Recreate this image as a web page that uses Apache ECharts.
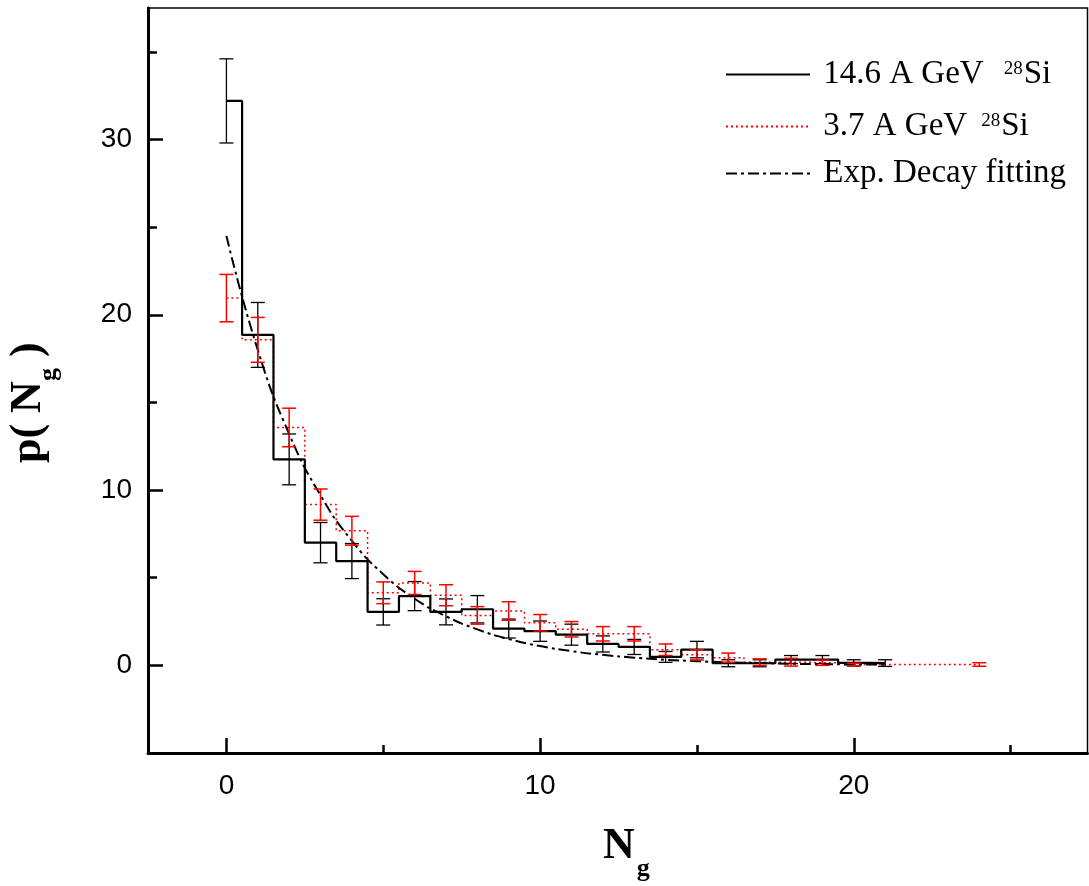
<!DOCTYPE html>
<html>
<head>
<meta charset="utf-8">
<script src="https://cdn.jsdelivr.net/npm/echarts@6/dist/echarts.min.js"></script>
<style>
html,body{margin:0;padding:0;background:#fff;}
#chart{width:1089px;height:886px;}
</style>
</head>
<body>
<div id="chart"></div>
<script>
// ---- data ----
const ngBlack = [0,1,2,3,4,5,6,7,8,9,10,11,12,13,14,15,16,17,18,19,20,21];
const pBlack  = [32.2,18.85,11.75,7.0,5.95,3.05,3.95,3.05,3.2,2.1,1.95,1.75,1.22,1.05,0.48,0.9,0.12,0.12,0.33,0.33,0.14,0.13];
const errBlack= [2.4,1.85,1.45,1.15,1.0,0.75,0.83,0.74,0.78,0.54,0.58,0.6,0.46,0.43,0.31,0.47,0.2,0.2,0.23,0.23,0.18,0.19];

const ngRed = [0,1,2,3,4,5,6,7,8,9,10,11,12,13,14,15,16,17,18,19,20,21,22,23,24];
const pRed  = [20.95,18.57,13.57,9.17,7.68,4.14,4.7,4.0,2.85,3.1,2.43,2.06,1.8,1.8,0.89,0.6,0.44,0.18,0.18,0.15,0.05,0.05,0.05,0.05,0.05];
const errRed= [1.35,1.28,1.1,0.89,0.82,0.62,0.66,0.6,0.5,0.53,0.47,0.44,0.41,0.41,0.33,0.29,0.26,0.19,0.22,0.15,0.07,0,0,0,0.1];

const ngFit = [0,1,2,3,4,5,6,7,8,9,10,11,12,13,14,15,16,17,18,19,20,21];
const pFit  = [24.5,17.99,13.2,9.7,7.1,5.2,3.8,2.8,2.05,1.5,1.1,0.81,0.6,0.44,0.32,0.24,0.17,0.13,0.09,0.07,0.05,0.04];

const xMajorTicks = [0,10,20];
const xMinorTicks = [5,15,25];
const yMajorTicks = [0,10,20,30];
const yMinorTicks = [5,15,25,35];

const legendNames = ['14.6 A GeV 28Si','3.7 A GeV 28Si','Exp. Decay fitting'];

// ---- build ----
const pairs = (xs, ys) => xs.map((x,i)=>[x, ys[i]]);
const errData = (xs, ys, es) => xs.map((x,i)=>[x, ys[i]-es[i], ys[i]+es[i], es[i]]).filter(d=>d[3]>0);

function errRender(color, lw){
  return function(params, api){
    const x = api.value(0), lo = api.value(1), hi = api.value(2);
    const t = api.coord([x, hi]), b = api.coord([x, lo]);
    const hw = 7;
    const st = {stroke: color, lineWidth: lw};
    return {type:'group', children:[
      {type:'line', shape:{x1:t[0], y1:t[1], x2:b[0], y2:b[1]}, style:st},
      {type:'line', shape:{x1:t[0]-hw, y1:t[1], x2:t[0]+hw, y2:t[1]}, style:st},
      {type:'line', shape:{x1:b[0]-hw, y1:b[1], x2:b[0]+hw, y2:b[1]}, style:st}
    ]};
  };
}

const serif = 'Liberation Serif';
const legText = {
  fontFamily: serif, fontSize: 33, color:'#000',
  rich: {
    t: {fontFamily: serif, fontSize: 33, lineHeight: 36, color:'#000'},
    sup1: {fontFamily: serif, fontSize: 19, verticalAlign:'top', padding:[3,1,0,20], color:'#000'},
    sup2: {fontFamily: serif, fontSize: 19, verticalAlign:'top', padding:[3,1,0,14], color:'#000'}
  }
};
const legFmt = {
  '14.6 A GeV 28Si': '{t| 14.6 A GeV}{sup1|28}{t|Si}',
  '3.7 A GeV 28Si': '{t| 3.7 A GeV}{sup2|28}{t|Si}',
  'Exp. Decay fitting': '{t| Exp. Decay fitting}'
};
function mkLegend(name, top){
  return {
    data:[name], left: 725, top: top, padding: 0, orient:'vertical',
    itemWidth: 84, itemHeight: 14, selectedMode: false,
    itemStyle: {opacity: 0},
    formatter: n => legFmt[n],
    textStyle: legText
  };
}

const chart = echarts.init(document.getElementById('chart'), null, {renderer:'canvas'});
const option = {
  backgroundColor: '#fff',
  animation: false,
  grid: {left:148, top:8, right:1.5, bottom:133, show:true, borderColor:'#000', borderWidth:1.5, backgroundColor:'transparent'},
  legend: [mkLegend(legendNames[0], 58), mkLegend(legendNames[1], 110), mkLegend(legendNames[2], 157)],
  xAxis: [
    {type:'value', min:-2.5, max:27.45, position:'bottom',
     axisLine:{show:true, onZero:false, lineStyle:{color:'#000', width:3}},
     axisTick:{show:true, inside:true, length:15, customValues:xMajorTicks, lineStyle:{color:'#000', width:2.5}},
     axisLabel:{show:true, customValues:xMajorTicks, fontFamily:'Liberation Sans', fontSize:28, color:'#000', margin:19},
     splitLine:{show:false}},
    {type:'value', min:-2.5, max:27.45, position:'bottom',
     axisLine:{show:false, onZero:false},
     axisTick:{show:true, inside:true, length:8, customValues:xMinorTicks, lineStyle:{color:'#000', width:2.5}},
     axisLabel:{show:false}, splitLine:{show:false}}
  ],
  yAxis: [
    {type:'value', min:-5, max:37.5, position:'left',
     axisLine:{show:true, onZero:false, lineStyle:{color:'#000', width:3}},
     axisTick:{show:true, inside:true, length:15, customValues:yMajorTicks, lineStyle:{color:'#000', width:2.5}},
     axisLabel:{show:true, customValues:yMajorTicks, fontFamily:'Liberation Sans', fontSize:28, color:'#000', margin:16},
     splitLine:{show:false}},
    {type:'value', min:-5, max:37.5, position:'left',
     axisLine:{show:false, onZero:false},
     axisTick:{show:true, inside:true, length:9, customValues:yMinorTicks, lineStyle:{color:'#000', width:2.5}},
     axisLabel:{show:false}, splitLine:{show:false}}
  ],
  graphic: [
    {type:'text', x:603, y:825, z:100,
     style:{text:'{n|N}{s|g}', align:'left', verticalAlign:'top',
       rich:{n:{fontFamily:serif, fontWeight:'bold', fontSize:44, verticalAlign:'top', fill:'#000', color:'#000'},
             s:{fontFamily:serif, fontWeight:'bold', fontSize:26, verticalAlign:'top', padding:[31,0,0,2], fill:'#000', color:'#000'}}}},
    {type:'text', x:6.6, y:463, rotation: Math.PI/2, z:100,
     style:{text:'{n|p( N}{s|g}{n| )}', align:'left', verticalAlign:'top',
       rich:{n:{fontFamily:serif, fontWeight:'bold', fontSize:44, verticalAlign:'top', fill:'#000', color:'#000'},
             s:{fontFamily:serif, fontWeight:'bold', fontSize:26, verticalAlign:'top', padding:[30,0,0,0], fill:'#000', color:'#000'}}}}
  ],
  series: [
    {name: legendNames[0], type:'line', step:'middle', data: pairs(ngBlack, pBlack), symbol:'none',
     xAxisIndex:0, yAxisIndex:0, lineStyle:{color:'#000', width:2.2}, itemStyle:{color:'#000'}, z:3},
    {name: legendNames[1], type:'line', step:'middle', data: pairs(ngRed, pRed), symbol:'none',
     xAxisIndex:0, yAxisIndex:0, lineStyle:{color:'#ff0000', width:1.5, type:[2,3]}, itemStyle:{color:'#ff0000'}, z:2},
    {name: legendNames[2], type:'line', smooth:true, data: pairs(ngFit, pFit), symbol:'none',
     xAxisIndex:0, yAxisIndex:0, lineStyle:{color:'#000', width:2, type:[11,4,3,4]}, itemStyle:{color:'#000'}, z:4},
    {name:'errBlack', type:'custom', xAxisIndex:0, yAxisIndex:0, data: errData(ngBlack, pBlack, errBlack),
     encode:{x:0, y:[1,2]}, renderItem: errRender('#000', 1.3), z:5, silent:true},
    {name:'errRed', type:'custom', xAxisIndex:0, yAxisIndex:0, data: errData(ngRed, pRed, errRed),
     encode:{x:0, y:[1,2]}, renderItem: errRender('#ff0000', 1.5), z:6, silent:true}
  ]
};
chart.setOption(option);
</script>
</body>
</html>
